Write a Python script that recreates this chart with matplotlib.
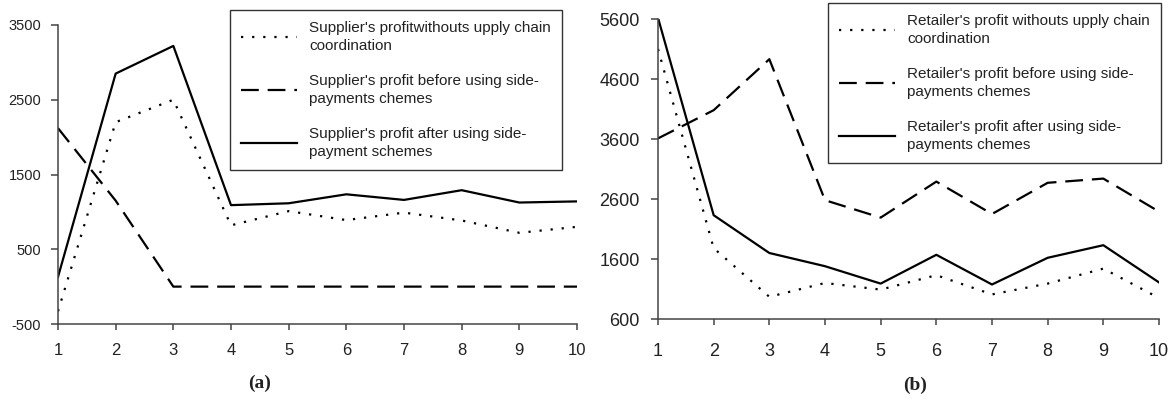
import matplotlib
matplotlib.use("Agg")
import matplotlib.pyplot as plt

plt.rcParams['font.family'] = ['Liberation Sans', 'DejaVu Sans']
plt.rcParams['axes.unicode_minus'] = False

periods = [1, 2, 3, 4, 5, 6, 7, 8, 9, 10]

# (a) supplier's profit
sup_no_coord = [-330, 2200, 2500, 820, 1010, 890, 990, 885, 720, 800]
sup_before = [2120, 1150, 0, 0, 0, 0, 0, 0, 0, 0]
sup_after = [130, 2850, 3220, 1090, 1115, 1235, 1160, 1290, 1125, 1140]

# (b) retailer's profit
ret_no_coord = [5100, 1780, 970, 1200, 1090, 1330, 1010, 1190, 1440, 950]
ret_before = [3610, 4080, 4930, 2580, 2290, 2890, 2350, 2870, 2940, 2390]
ret_after = [5620, 2330, 1700, 1480, 1190, 1670, 1175, 1620, 1830, 1210]

sup_labels = ["Supplier's profitwithouts upply chain\ncoordination",
              "Supplier's profit before using side-\npayments chemes",
              "Supplier's profit after using side-\npayment schemes"]
ret_labels = ["Retailer's profit withouts upply chain\ncoordination",
              "Retailer's profit before using side-\npayments chemes",
              "Retailer's profit after using side-\npayments chemes"]

ink = '#222222'
dot = (0, (1, 4))
dash = (0, (8, 4))

fig = plt.figure(figsize=(11.71, 4.0), dpi=100)
ax1 = fig.add_axes([58/1171, 1-324/400, (577-58)/1171, (324-25)/400])
ax2 = fig.add_axes([658/1171, 1-319/400, (1159-658)/1171, (319-19)/400])


def draw(ax, series, labels, ylim, yticks, yfs, xfs, xpad, ypad, leg_anchor):
    for vals, ls in zip(series, [dot, dash, '-']):
        ax.plot(periods, vals, color='black', lw=1.6, linestyle=ls)
    ax.set_xlim(1, 10)
    ax.set_ylim(*ylim)
    ax.set_xticks(periods)
    ax.set_yticks(yticks)
    ax.spines['top'].set_visible(False)
    ax.spines['right'].set_visible(False)
    for s in ['left', 'bottom']:
        ax.spines[s].set_color('#444444')
        ax.spines[s].set_linewidth(1.1)
    ax.tick_params(axis='y', length=5, width=1.1, color='#444444',
                   labelsize=yfs, labelcolor=ink, pad=ypad)
    ax.tick_params(axis='x', length=4, width=1.1, color='#444444',
                   labelsize=xfs, labelcolor=ink, pad=xpad)
    leg = ax.legend(labels, loc='upper left', bbox_to_anchor=leg_anchor,
                    fontsize=11, handlelength=3.7, handletextpad=0.8,
                    labelspacing=1.35, borderpad=0.7, borderaxespad=0,
                    fancybox=False, framealpha=1, edgecolor='#333333')
    leg.get_frame().set_linewidth(1.0)
    for t in leg.get_texts():
        t.set_linespacing(1.4)
        t.set_color(ink)


draw(ax1, [sup_no_coord, sup_before, sup_after], sup_labels,
     (-500, 3500), [-500, 500, 1500, 2500, 3500], 10.5, 12, 10, 7,
     ((230-58)/519, (324-10)/299))
draw(ax2, [ret_no_coord, ret_before, ret_after], ret_labels,
     (600, 5600), [600, 1600, 2600, 3600, 4600, 5600], 13, 13, 13, 8,
     ((828-658)/501, (319-3)/300))

fig.text(260/1171, 1-383/400, '(a)', family='Liberation Serif',
         fontweight='bold', fontsize=14, ha='center', va='center', color=ink)
fig.text(915/1171, 1-385/400, '(b)', family='Liberation Serif',
         fontweight='bold', fontsize=14, ha='center', va='center', color=ink)

fig.savefig('out.png', dpi=100)
